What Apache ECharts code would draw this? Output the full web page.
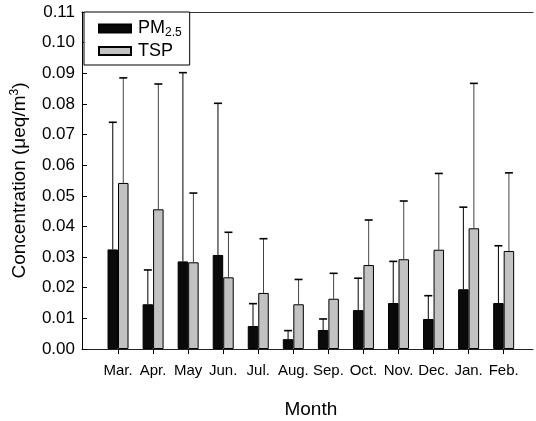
<!DOCTYPE html>
<html><head><meta charset="utf-8">
<script src="https://cdn.jsdelivr.net/npm/echarts@6/dist/echarts.min.js"></script>
<style>html,body{margin:0;padding:0;background:#fff}#c{width:536px;height:421px}</style>
</head><body><div id="c"></div>
<script>
const months = ['Mar.','Apr.','May','Jun.','Jul.','Aug.','Sep.','Oct.','Nov.','Dec.','Jan.','Feb.'];
const pm25 = [0.0325,0.0146,0.0286,0.0307,0.0075,0.0032,0.0062,0.0127,0.0150,0.0098,0.0195,0.0150];
const pm25Err = [0.0740,0.0258,0.0902,0.0802,0.0148,0.0060,0.0098,0.0231,0.0286,0.0174,0.0463,0.0337];
const tsp = [0.0542,0.0456,0.0283,0.0234,0.0183,0.0146,0.0164,0.0274,0.0293,0.0324,0.0394,0.0320];
const tspErr = [0.0885,0.0865,0.0509,0.0381,0.0360,0.0227,0.0247,0.0421,0.0483,0.0573,0.0867,0.0575];
const yTicks = {min:0, max:0.11, interval:0.01};

const FONT = 'Liberation Sans, Arial, sans-serif';
const BW = 10.5;
const chart = echarts.init(document.getElementById('c'));

function errRender(sign, color){
  return function(params, api){
    const i = api.value(0), v = api.value(1), h = api.value(2);
    const p1 = api.coord([i, v]);
    const p2 = api.coord([i, h]);
    const cx = p1[0] + sign*BW/2;
    return {type:'group', children:[
      {type:'line', shape:{x1:cx,y1:p1[1],x2:cx,y2:p2[1]}, style:{stroke:color,lineWidth:1}},
      {type:'line', shape:{x1:cx-4,y1:p2[1],x2:cx+4,y2:p2[1]}, style:{stroke:'#000',lineWidth:1.6}}
    ]};
  };
}

chart.setOption({
  animation:false,
  textStyle:{fontFamily:FONT},
  grid:[
    {left:82, top:12, right:3, bottom:72, outerBoundsMode:'none', containLabel:false},
    {left:100.5, top:12, width:420.7, bottom:72, outerBoundsMode:'none', containLabel:false}
  ],
  legend:{
    left:84, top:12, orient:'vertical',
    backgroundColor:'#fff', borderColor:'#000', borderWidth:1,
    padding:[6,8,5,14], itemGap:3,
    itemWidth:32, itemHeight:8, icon:'rect',
    data:['PM2.5','TSP'],
    formatter: n => n==='PM2.5' ? '{a|PM}{s|2.5}' : '{a|TSP}',
    textStyle:{fontFamily:FONT, color:'#000', rich:{
      a:{fontSize:18, lineHeight:21, fontFamily:FONT, color:'#000', padding:[0,0,0,2]},
      s:{fontSize:12, lineHeight:21, fontFamily:FONT, color:'#000', padding:[9,0,0,0]}
    }}
  },
  xAxis:[
    {type:'value', gridIndex:0, min:0, max:1, show:true,
     axisLine:{show:true, lineStyle:{color:'#222', width:1}}, axisTick:{show:false},
     axisLabel:{show:false}, splitLine:{show:false}},
    {type:'value', gridIndex:0, position:'top', min:0, max:1,
     axisLine:{show:true, lineStyle:{color:'#333', width:1}}, axisTick:{show:false},
     axisLabel:{show:false}, splitLine:{show:false}},
    {type:'category', gridIndex:1, data:months,
     axisLine:{show:false},
     axisTick:{show:true, alignWithLabel:true, length:5, lineStyle:{color:'#000'}},
     axisLabel:{margin:14, fontSize:15, color:'#000', fontFamily:FONT, interval:0},
     name:'Month', nameLocation:'middle', nameGap:51,
     nameTextStyle:{fontSize:19, color:'#000', fontFamily:FONT}}
  ],
  yAxis:[
    {type:'value', gridIndex:0, min:yTicks.min, max:yTicks.max, interval:yTicks.interval,
     axisLine:{show:true, lineStyle:{color:'#000', width:1}},
     axisTick:{show:true, inside:true, length:5, lineStyle:{color:'#000'}},
     axisLabel:{fontSize:17, color:'#000', margin:7, formatter:v=>v.toFixed(2)},
     splitLine:{show:false},
     name:'{n|Concentration (μeq/m}{p|3}{n|)}', nameLocation:'middle', nameGap:47, nameRotate:90,
     nameTextStyle:{rich:{
       n:{fontSize:19, color:'#000', fontFamily:FONT, lineHeight:22},
       p:{fontSize:12, color:'#000', fontFamily:FONT, lineHeight:22, padding:[0,0,10,0]}
     }}},
    {type:'value', gridIndex:1, min:yTicks.min, max:yTicks.max, interval:yTicks.interval, show:false}
  ],
  series:[
    {name:'PM2.5', type:'bar', xAxisIndex:2, yAxisIndex:1, data:pm25, barWidth:BW, barGap:'0%',
     itemStyle:{color:'#0a0a0a', borderColor:'#000', borderWidth:1}},
    {name:'TSP', type:'bar', xAxisIndex:2, yAxisIndex:1, data:tsp, barWidth:BW, barGap:'0%',
     itemStyle:{color:'#c2c2c2', borderColor:'#000', borderWidth:1}},
    {type:'custom', xAxisIndex:2, yAxisIndex:1, renderItem:errRender(-1,'#000'), z:1,
     data:pm25.map((v,i)=>[i,v,pm25Err[i]])},
    {type:'custom', xAxisIndex:2, yAxisIndex:1, renderItem:errRender(1,'#444'), z:1,
     data:tsp.map((v,i)=>[i,v,tspErr[i]])}
  ]
});
</script></body></html>
